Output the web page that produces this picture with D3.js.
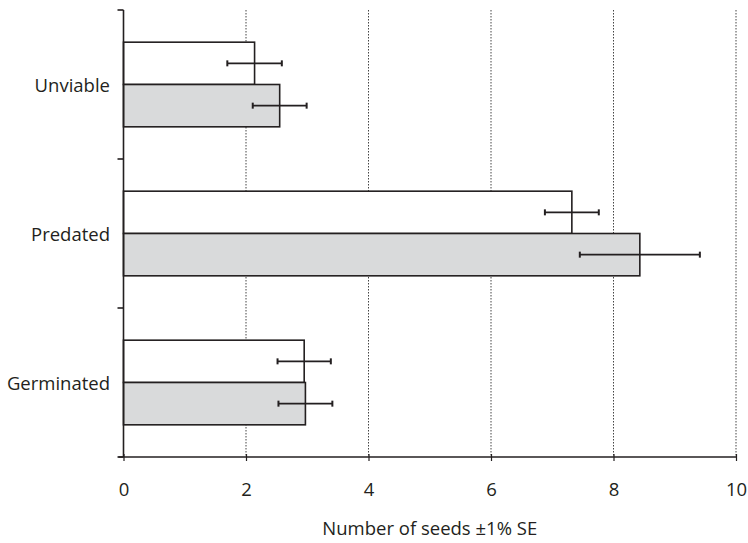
<!DOCTYPE html>
<html><head><meta charset="utf-8">
<script src="https://cdn.jsdelivr.net/npm/d3@7"></script>
<style>body{margin:0;background:#fff}svg{display:block}text{font-family:"Open Sans","Noto Sans",sans-serif;fill:#231f20}</style>
</head><body><svg id="c" width="748" height="543"></svg>
<script>
const categories = ["Unviable", "Predated", "Germinated"];
const whiteMeans = [2.14, 7.32, 2.95];
const whiteSE = [0.445, 0.44, 0.435];
const grayMeans = [2.55, 8.43, 2.97];
const graySE = [0.44, 0.98, 0.44];
const xTicks = [0, 2, 4, 6, 8, 10];
const xTitle = "Number of seeds \u00b11% SE";

const svg = d3.select("#c");
const m = {l: 123.5, r: 736, t: 10, b: 457};
const x = d3.scaleLinear().domain([0, 10]).range([m.l, m.r]);
const y = d3.scaleBand().domain(categories).range([m.t, m.b]).paddingInner(0.432).paddingOuter(0.216);
const sub = d3.scaleBand().domain(["w", "g"]).range([0, y.bandwidth()]);
const ink = "#231f20";
const fs = 18.5;

// grid
svg.append("g").selectAll("line").data(xTicks.filter(d => d > 0)).join("line")
  .attr("x1", d => x(d)).attr("x2", d => x(d)).attr("y1", m.t).attr("y2", m.b)
  .attr("stroke", "#444").attr("stroke-width", 1).attr("stroke-dasharray", "1.5,1.5");

// bars
const series = [{k: "w", means: whiteMeans, se: whiteSE, fill: "#ffffff"},
                {k: "g", means: grayMeans, se: graySE, fill: "#d9dadb"}];
series.forEach(s => {
  const g = svg.append("g");
  g.selectAll("rect").data(categories).join("rect")
    .attr("x", x(0)).attr("y", c => y(c) + sub(s.k))
    .attr("width", (c, i) => x(s.means[i]) - x(0)).attr("height", sub.bandwidth())
    .attr("fill", s.fill).attr("stroke", ink).attr("stroke-width", 1.6);
});
series.forEach(s => {
  const g = svg.append("g").attr("stroke", ink).attr("stroke-width", 1.6);
  categories.forEach((c, i) => {
    const cy = y(c) + sub(s.k) + sub.bandwidth() / 2;
    const lo = x(s.means[i] - s.se[i]), hi = x(s.means[i] + s.se[i]);
    g.append("line").attr("x1", lo).attr("x2", hi).attr("y1", cy).attr("y2", cy);
    [lo, hi].forEach(px => g.append("line").attr("x1", px).attr("x2", px).attr("y1", cy - 3).attr("y2", cy + 3).attr("stroke-width", 2));
  });
});

// y axis
svg.append("line").attr("x1", x(0)).attr("x2", x(0)).attr("y1", m.t).attr("y2", m.b).attr("stroke", ink).attr("stroke-width", 1.6);
const yTickPos = [m.t].concat(categories.map(c => y(c) + y.bandwidth() + y.step() * 0.216));
svg.append("g").selectAll("line").data(yTickPos).join("line")
  .attr("x1", x(0) - 6).attr("x2", x(0)).attr("y1", d => d).attr("y2", d => d)
  .attr("stroke", ink).attr("stroke-width", 1.6);
svg.append("g").selectAll("text").data(categories).join("text")
  .attr("x", 110).attr("y", c => y(c) + y.bandwidth() / 2)
  .attr("text-anchor", "end").attr("dominant-baseline", "central")
  .attr("font-size", fs).text(c => c);

// x axis
const xa = svg.append("g").attr("transform", `translate(0,${m.b})`)
  .call(d3.axisBottom(x).tickValues(xTicks).tickSize(4).tickPadding(22).tickSizeOuter(0));
xa.select(".domain").attr("stroke", ink).attr("stroke-width", 1.6);
xa.selectAll(".tick line").attr("stroke", ink).attr("stroke-width", 1.2).attr("y1", -3);
xa.selectAll(".tick text").attr("font-size", fs).attr("font-family", "'Open Sans','Noto Sans',sans-serif").attr("fill", ink);
xa.select(".domain").attr("d", `M${x(0) - 5},0H${x(10)}`);

svg.append("text").attr("x", (x(0) + x(10)) / 2).attr("y", 535)
  .attr("text-anchor", "middle").attr("font-size", fs).text(xTitle);
</script></body></html>
